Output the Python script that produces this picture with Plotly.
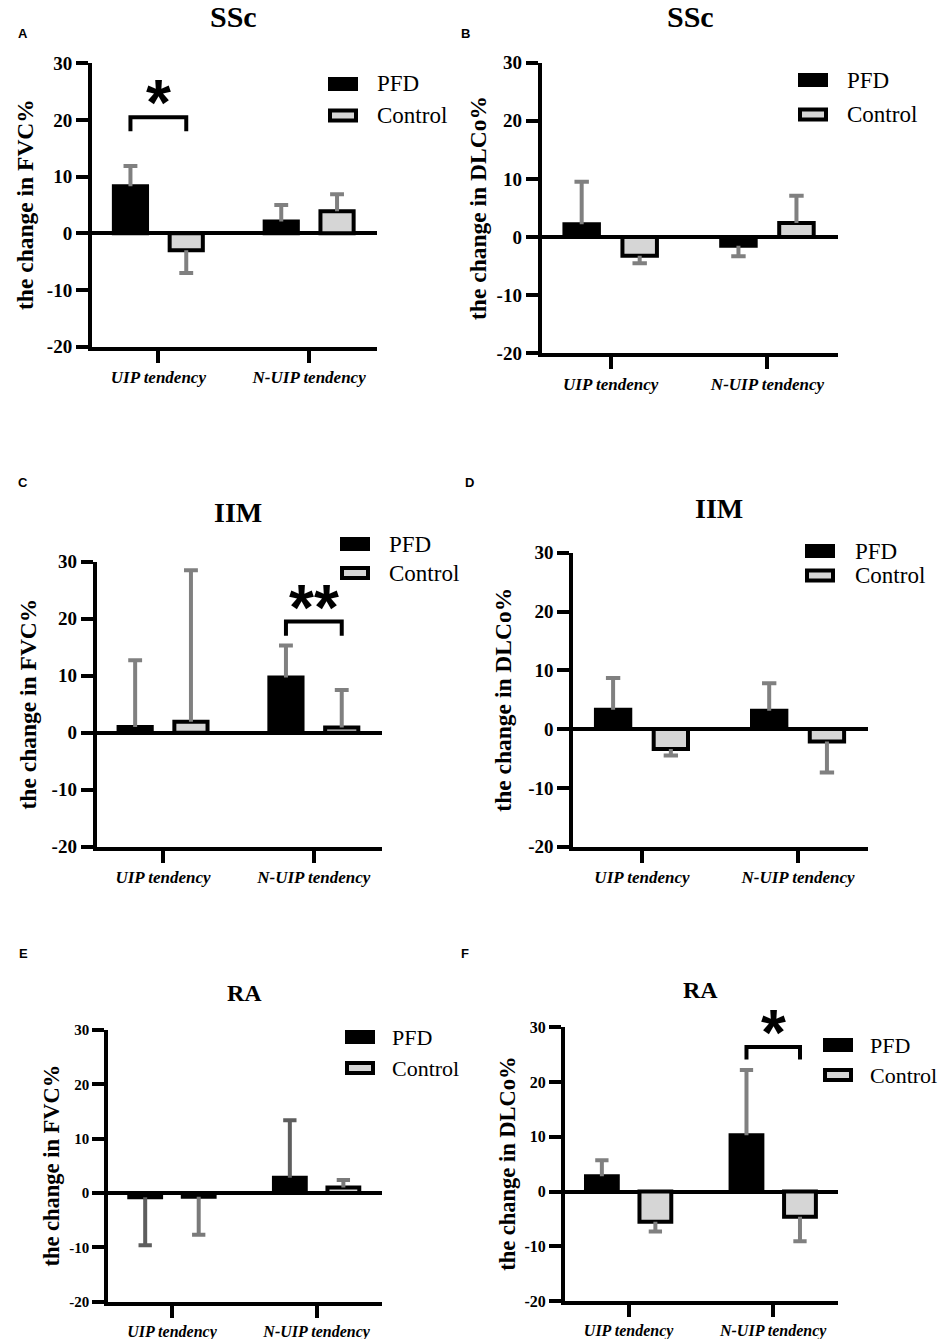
import plotly.graph_objects as go

W, H = 941, 1339

# ---------------- data ----------------
categories = ["UIP tendency", "N-UIP tendency"]
series_names = ["PFD", "Control"]
y_ticks = [-20, -10, 0, 10, 20, 30]
y_tick_labels = ["-20", "-10", "0", "10", "20", "30"]

# A  SSc, FVC%
ssc_fvc_pfd = [8.3, 2.1]
ssc_fvc_pfd_sd = [3.6, 2.9]
ssc_fvc_control = [-3.0, 3.9]
ssc_fvc_control_sd = [4.0, 3.0]
# B  SSc, DLCo%
ssc_dlco_pfd = [2.2, -1.5]
ssc_dlco_pfd_sd = [7.3, 1.8]
ssc_dlco_control = [-3.2, 2.4]
ssc_dlco_control_sd = [1.3, 4.7]
# C  IIM, FVC%
iim_fvc_pfd = [1.0, 9.7]
iim_fvc_pfd_sd = [11.7, 5.6]
iim_fvc_control = [1.9, 0.9]
iim_fvc_control_sd = [26.6, 6.6]
# D  IIM, DLCo%
iim_dlco_pfd = [3.3, 3.1]
iim_dlco_pfd_sd = [5.4, 4.7]
iim_dlco_control = [-3.4, -2.1]
iim_dlco_control_sd = [1.1, 5.3]
# E  RA, FVC%
ra_fvc_pfd = [-0.8, 2.8]
ra_fvc_pfd_sd = [8.8, 10.6]
ra_fvc_control = [-0.7, 1.0]
ra_fvc_control_sd = [7.0, 1.4]
# F  RA, DLCo%
ra_dlco_pfd = [2.8, 10.3]
ra_dlco_pfd_sd = [2.9, 11.9]
ra_dlco_control = [-5.5, -4.6]
ra_dlco_control_sd = [1.8, 4.5]

panel_letters = ["A", "B", "C", "D", "E", "F"]
panel_titles = ["SSc", "SSc", "IIM", "IIM", "RA", "RA"]
y_titles = ["the change in FVC%", "the change in DLCo%",
            "the change in FVC%", "the change in DLCo%",
            "the change in FVC%", "the change in DLCo%"]

# significance brackets
sig_panel = [0, 2, 5]
sig_category = [0, 1, 1]
sig_top = [20.5, 19.5, 26.4]
sig_bottom = [18.0, 17.0, 24.1]
sig_label = ["*", "**", "*"]

panel_series = [
    (ssc_fvc_pfd, ssc_fvc_pfd_sd, ssc_fvc_control, ssc_fvc_control_sd),
    (ssc_dlco_pfd, ssc_dlco_pfd_sd, ssc_dlco_control, ssc_dlco_control_sd),
    (iim_fvc_pfd, iim_fvc_pfd_sd, iim_fvc_control, iim_fvc_control_sd),
    (iim_dlco_pfd, iim_dlco_pfd_sd, iim_dlco_control, iim_dlco_control_sd),
    (ra_fvc_pfd, ra_fvc_pfd_sd, ra_fvc_control, ra_fvc_control_sd),
    (ra_dlco_pfd, ra_dlco_pfd_sd, ra_dlco_control, ra_dlco_control_sd),
]

# ---------------- styles / layout geometry (pixels) ----------------
SERIF = "Liberation Serif"
SANS = "Liberation Sans"
BAR_COLORS = ["#000000", "#d6d6d6"]
OFFSETS = [-0.185, 0.185]
BAR_W = 0.22
CAP = 0.046
X_RANGE = [-0.44, 1.45]

geo = [
    dict(x0=92, x1=377, yt=63.3, yb=346.7, tx=233, ty=17, tfs=30, ytx=25, ytfs=23.5, tickfs=19, catfs=17,
         leg=(328, 84, 115.5, 375, 23), letter=(23, 33), err=("#808080", "#808080")),
    dict(x0=541.7, x1=838, yt=62.7, yb=353.3, tx=690, ty=17, tfs=30, ytx=478, ytfs=23.5, tickfs=19, catfs=17,
         leg=(798, 80, 114.5, 845, 23), letter=(465, 33), err=("#808080", "#808080")),
    dict(x0=96.7, x1=381.7, yt=561.7, yb=846.7, tx=238, ty=512, tfs=28, ytx=28.3, ytfs=23.5, tickfs=19, catfs=17,
         leg=(340, 544, 573, 387, 23), letter=(23, 482), err=("#808080", "#808080")),
    dict(x0=573.3, x1=868.3, yt=552.7, yb=846.7, tx=719, ty=508, tfs=28, ytx=503, ytfs=23.5, tickfs=19, catfs=17,
         leg=(805, 551, 575.5, 853, 23), letter=(469, 482), err=("#808080", "#808080")),
    dict(x0=108.3, x1=381.7, yt=1030, yb=1301.7, tx=244, ty=993, tfs=24, ytx=51.7, ytfs=22.5, tickfs=15, catfs=16,
         leg=(345, 1037, 1068, 390, 22), letter=(23, 953), err=("#5e5e5e", "#7a7a7a")),
    dict(x0=565, x1=838.3, yt=1027.3, yb=1301, tx=700, ty=990, tfs=24, ytx=506.7, ytfs=22.5, tickfs=16, catfs=16,
         leg=(823, 1045, 1075, 868, 22), letter=(465, 953), err=("#808080", "#808080")),
]


def fx(px):
    return px / W


def fy(py):
    return 1 - py / H


fig = go.Figure()
annotations = []
shapes = []
layout_axes = {}

for p, (g, series) in enumerate(zip(geo, panel_series)):
    n = p + 1
    xa = "x" if n == 1 else f"x{n}"
    ya = "y" if n == 1 else f"y{n}"
    vals = [series[0], series[2]]
    sds = [series[1], series[3]]

    for s in range(2):
        xs = [i + OFFSETS[s] for i in range(len(categories))]
        fig.add_trace(go.Bar(
            x=xs, y=vals[s], width=BAR_W, name=series_names[s],
            marker=dict(color=BAR_COLORS[s], line=dict(color="black", width=4)),
            xaxis=xa, yaxis=ya, showlegend=False, hoverinfo="y",
        ))
    for s in range(2):
        ex, ey = [], []
        for i in range(len(categories)):
            xc = i + OFFSETS[s]
            v = vals[s][i]
            e = sds[s][i]
            end = v + e if v >= 0 else v - e
            ex += [xc, xc, None, xc - CAP, xc + CAP, None]
            ey += [v, end, None, end, end, None]
        fig.add_trace(go.Scatter(
            x=ex, y=ey, mode="lines", line=dict(color=g["err"][s], width=4),
            xaxis=xa, yaxis=ya, showlegend=False, hoverinfo="skip",
        ))

    layout_axes["xaxis" if n == 1 else f"xaxis{n}"] = dict(
        domain=[fx(g["x0"]), fx(g["x1"])], anchor=ya, range=X_RANGE, automargin=False,
        tickmode="array", tickvals=list(range(len(categories))), ticktext=categories,
        showline=True, linewidth=4, linecolor="black",
        ticks="outside", ticklen=12, tickwidth=4, tickcolor="black",
        tickfont=dict(family=SERIF, size=g["catfs"], color="black", weight="bold", style="italic"),
        showgrid=False, zeroline=False, fixedrange=True,
    )
    layout_axes["yaxis" if n == 1 else f"yaxis{n}"] = dict(
        domain=[fy(g["yb"]), fy(g["yt"])], anchor=xa, range=[-20, 30], automargin=False,
        tickmode="array", tickvals=y_ticks, ticktext=y_tick_labels,
        showline=True, linewidth=4, linecolor="black",
        ticks="outside", ticklen=12, tickwidth=4, tickcolor="black",
        tickfont=dict(family=SERIF, size=g["tickfs"], color="black", weight="bold"),
        showgrid=False, zeroline=True, zerolinewidth=4, zerolinecolor="black", fixedrange=True,
    )

    # panel title
    annotations.append(dict(text=panel_titles[p], x=fx(g["tx"]), y=fy(g["ty"]), xref="paper", yref="paper",
                            xanchor="center", yanchor="middle", showarrow=False,
                            font=dict(family=SERIF, size=g["tfs"], color="black", weight="bold")))
    # y axis title
    annotations.append(dict(text=y_titles[p], x=fx(g["ytx"]), y=fy((g["yt"] + g["yb"]) / 2),
                            xref="paper", yref="paper", textangle=-90,
                            xanchor="center", yanchor="middle", showarrow=False,
                            font=dict(family=SERIF, size=g["ytfs"], color="black", weight="bold")))
    # panel letter
    annotations.append(dict(text=panel_letters[p], x=fx(g["letter"][0]), y=fy(g["letter"][1]),
                            xref="paper", yref="paper", xanchor="center", yanchor="middle", showarrow=False,
                            font=dict(family=SANS, size=13, color="black", weight="bold")))
    # legend (manual swatches)
    lx, ly_p, ly_c, tx, lfs = g["leg"]
    for s, ly in enumerate([ly_p, ly_c]):
        shapes.append(dict(type="rect", xref="paper", yref="paper",
                           x0=fx(lx + 2), x1=fx(lx + 28), y0=fy(ly + 5), y1=fy(ly - 5),
                           fillcolor=BAR_COLORS[s], line=dict(color="black", width=4)))
        annotations.append(dict(text=series_names[s], x=fx(tx), y=fy(ly), xref="paper", yref="paper",
                                xanchor="left", yanchor="middle", showarrow=False,
                                font=dict(family=SERIF, size=lfs, color="black")))

# significance brackets
for k in range(len(sig_panel)):
    n = sig_panel[k] + 1
    xa = "x" if n == 1 else f"x{n}"
    ya = "y" if n == 1 else f"y{n}"
    c = sig_category[k]
    xl, xr = c + OFFSETS[0], c + OFFSETS[1]
    fig.add_trace(go.Scatter(
        x=[xl, xl, xr, xr], y=[sig_bottom[k], sig_top[k], sig_top[k], sig_bottom[k]],
        mode="lines", line=dict(color="black", width=4), xaxis=xa, yaxis=ya,
        showlegend=False, hoverinfo="skip", cliponaxis=False,
    ))
    annotations.append(dict(text=sig_label[k], x=c, y=sig_top[k], xref=xa, yref=ya,
                            xanchor="center", yanchor="middle", yshift=14, showarrow=False,
                            font=dict(family=SANS, size=64, color="black", weight="bold")))

fig.update_layout(
    width=W, height=H, margin=dict(l=0, r=0, t=0, b=0, autoexpand=False),
    paper_bgcolor="white", plot_bgcolor="white",
    barmode="overlay", showlegend=False,
    annotations=annotations, shapes=shapes,
    **layout_axes,
)

fig.write_html("out.html", config={"displayModeBar": False},
               post_script="document.body.style.margin='0';document.body.style.padding='0';")
